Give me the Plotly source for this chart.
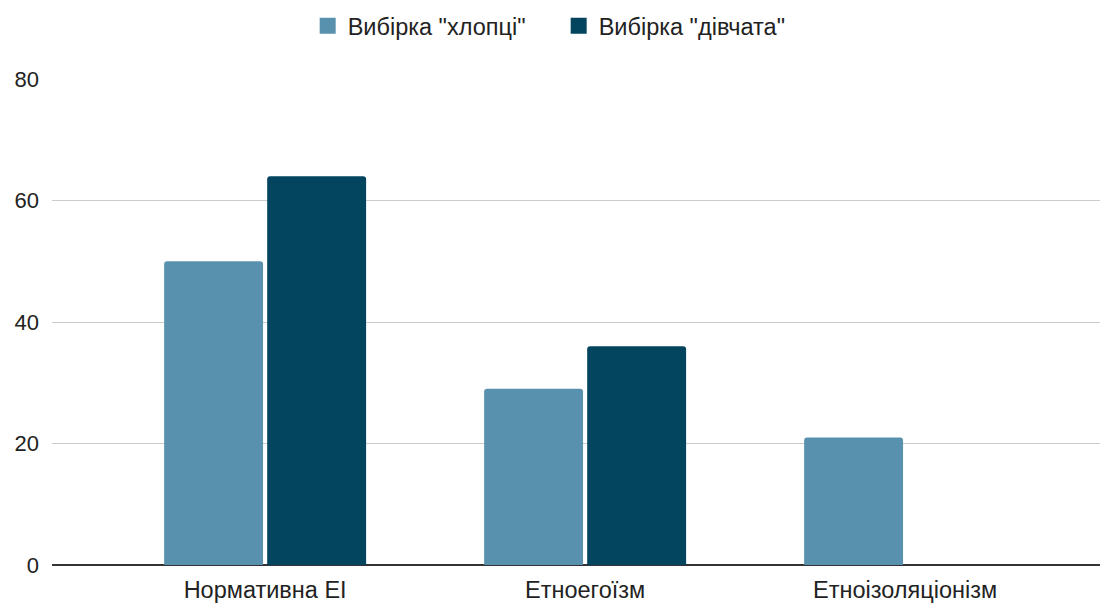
import plotly.graph_objects as go

categories = ["Нормативна ЕІ", "Етноегоїзм", "Етноізоляціонізм"]
boys = [50, 29, 21]
girls = [64, 36, 0]
series_names = ['Вибірка "хлопці"', 'Вибірка "дівчата"']
colors = ["#5891ad", "#03445e"]
y_ticks = [0, 20, 40, 60, 80]

fig = go.Figure()
for vals, name, col in zip([boys, girls], series_names, colors):
    fig.add_trace(go.Bar(x=categories, y=vals, name=name, marker_color=col,
                         marker_line_width=0, showlegend=False, legendgroup=name))
for name, col in zip(series_names, colors):
    fig.add_trace(go.Scatter(x=[None], y=[None], mode="markers", name=name, legendgroup=name,
                             marker=dict(symbol="square", size=17, color=col)))

FONT = "Liberation Sans, Arial, sans-serif"
fig.update_layout(
    width=1108, height=603,
    margin=dict(l=44, r=8, t=71, b=46),
    paper_bgcolor="white", plot_bgcolor="white",
    font=dict(family=FONT, size=22, color="#222222"),
    barmode="group", bargap=0.356, bargroupgap=0.04, barcornerradius=3,
    legend=dict(orientation="h", xref="container", yref="container", x=0.497, y=0.97,
                xanchor="center", yanchor="middle", font=dict(size=23.5, color="#222222"),
                itemwidth=30, traceorder="normal", entrywidth=206, entrywidthmode="pixels"),
    showlegend=True,
)
fig.update_xaxes(range=[-0.666, 2.634], showgrid=False, showline=False, ticks="",
                 tickfont=dict(size=23.5), ticklabelstandoff=8)
fig.update_yaxes(range=[0, 80], tickvals=y_ticks, showgrid=True, gridcolor="#cccccc", gridwidth=1,
                 zeroline=True, zerolinecolor="#333333", zerolinewidth=2, ticks="", ticklabelstandoff=12,
                 tickfont=dict(size=22))

fig.write_html("out.html")
